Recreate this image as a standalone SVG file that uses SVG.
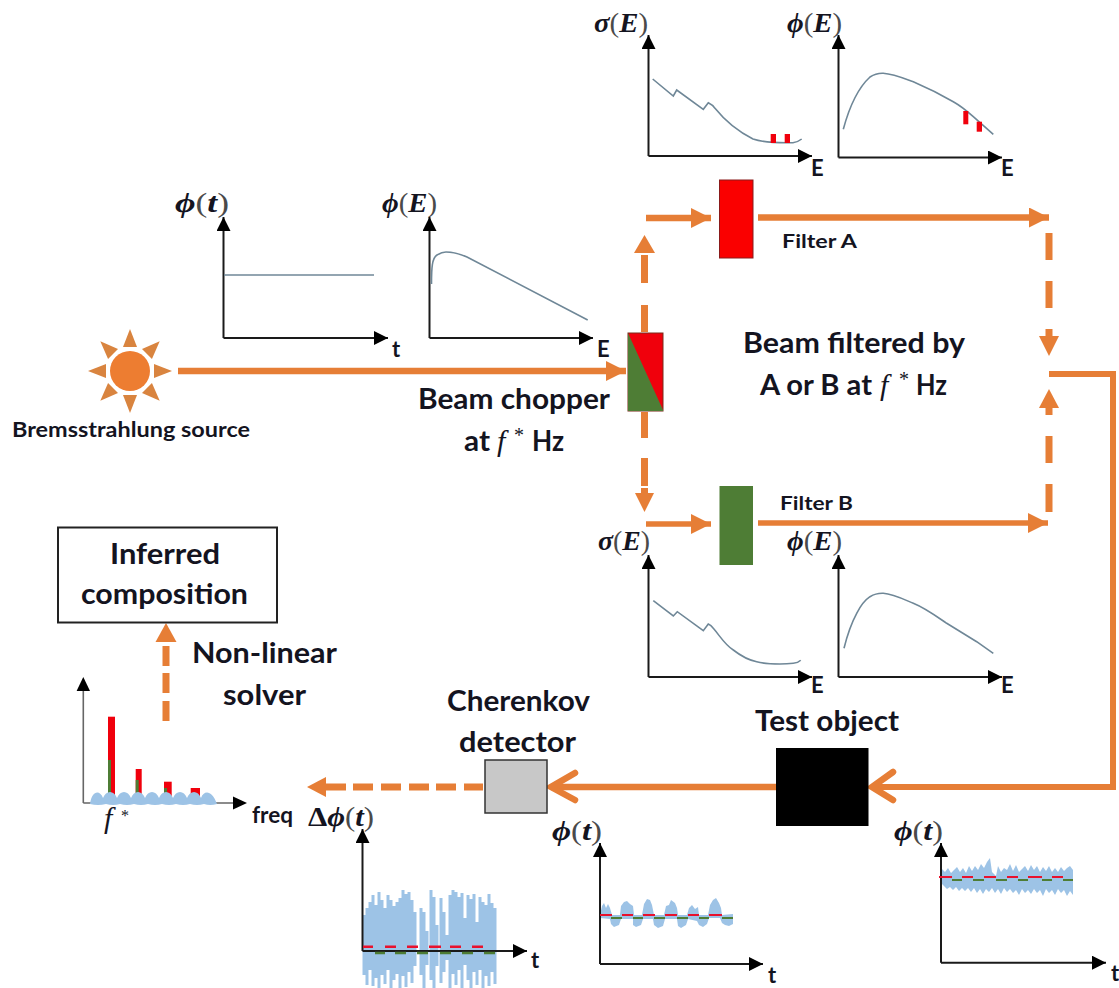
<svg xmlns="http://www.w3.org/2000/svg" width="1119" height="988" viewBox="0 0 1119 988">
<style>
text{font-family:Lato,"Liberation Sans",Arial,sans-serif;font-weight:700;fill:#14141f}
.lg{font-size:28px}
.md{font-size:20px}
.sm{font-size:19px}
.ax{font-size:22px}
.m{font-family:"Liberation Serif","DejaVu Serif",serif;font-size:27px;font-weight:700;font-style:italic}
.m .p{font-weight:400;font-style:normal;fill:#4a4a4a}
.f{font-family:"Liberation Serif","DejaVu Serif",serif;font-style:italic;font-weight:400;font-size:30px}
.st{font-family:"Liberation Serif","DejaVu Serif",serif;font-weight:400;font-size:20px}
.axis{fill:none;stroke:#1a1a1a;stroke-width:2;marker-end:url(#blk)}
.cv{fill:none;stroke:#6f8797;stroke-width:1.6}
.beam{fill:none;stroke:#e67e36;stroke-width:6.5;marker-end:url(#org)}
.thin{stroke-width:5.5}
.dash{fill:none;stroke:#e67e36;stroke-width:7}
.o{fill:#e67e36}
.open{fill:none;stroke:#e67e36;stroke-width:6.5;stroke-linecap:round;stroke-linejoin:miter}
.noise{fill:#9dc3e6;filter:url(#soft)}
.r{fill:#f0000c}
.g{fill:#4e7d35}
.rl{stroke:#e8112d;stroke-width:2.5;fill:none}
.gl{stroke:#4e7d35;stroke-width:2.5;fill:none}
</style>
<defs>
<marker id="blk" markerUnits="userSpaceOnUse" markerWidth="16" markerHeight="16" refX="14" refY="7" orient="auto"><path d="M0 0L14 7L0 14Z" fill="#000"/></marker>
<marker id="org" markerUnits="userSpaceOnUse" markerWidth="22" markerHeight="22" refX="20" refY="10" orient="auto"><path d="M0 0L20 10L0 20Z" fill="#e67e36"/></marker>
<filter id="soft" x="-5%" y="-5%" width="110%" height="110%"><feGaussianBlur stdDeviation="0.6"/></filter>
</defs>
<rect width="1119" height="988" fill="#fff"/>

<g id="connectors">
<path class="beam" d="M178 371H626"/>
<path class="beam" d="M646 218H711"/>
<path class="beam" d="M758 217.500H1049"/>
<path class="beam thin" d="M646 524H711"/>
<path class="beam thin" d="M758 523H1048"/>
<path class="dash" d="M644.500 332V305M644.500 283V255"/>
<path class="o" d="M644.500 235L655 253H634Z"/>
<path class="dash" d="M644.500 412V438M644.500 458V486M644.500 488V495"/>
<path class="o" d="M644.500 512L635 493H654Z"/>
<path class="dash" d="M1049 233V260M1049 281V308M1049 329V338"/>
<path class="o" d="M1049 356L1039 336H1059Z"/>
<path class="dash" d="M1049 512V484M1049 463V436M1049 415V406"/>
<path class="o" d="M1049 389L1039 408H1059Z"/>
<path fill="none" stroke="#e67e36" stroke-width="6" d="M1049 374H1113V787H872"/>
<path class="open" d="M893 772L872 787L893 800"/>
<path fill="none" stroke="#e67e36" stroke-width="6.500" d="M776 787H551"/>
<path class="open" d="M575 773L551 787L575 800"/>
<path class="dash" d="M483 787H464M456 787H436M429 787H409M401 787H381M373 787H353M346 787H324"/>
<path class="o" d="M307 787L326 777V797Z"/>
<path class="dash" d="M166 721V701M166 693V673M166 666V646"/>
<path class="o" d="M166 623L176.500 642H155.500Z"/>
</g>

<g id="source">
<circle cx="130" cy="371" r="20" fill="#ed7d31"/>
<g fill="#d9843f">
<path d="M130 329L123 347H137Z"/>
<path d="M130 329L123 347H137Z" transform="rotate(45 130 371)"/>
<path d="M130 329L123 347H137Z" transform="rotate(90 130 371)"/>
<path d="M130 329L123 347H137Z" transform="rotate(135 130 371)"/>
<path d="M130 329L123 347H137Z" transform="rotate(180 130 371)"/>
<path d="M130 329L123 347H137Z" transform="rotate(225 130 371)"/>
<path d="M130 329L123 347H137Z" transform="rotate(270 130 371)"/>
<path d="M130 329L123 347H137Z" transform="rotate(315 130 371)"/>
</g>
<text class="md" x="12" y="437" textLength="238" lengthAdjust="spacingAndGlyphs">Bremsstrahlung source</text>
</g>

<g id="plot-flux-time">
<text class="m" x="175" y="212" textLength="54" lengthAdjust="spacingAndGlyphs">ϕ<tspan class="p">(</tspan>t<tspan class="p">)</tspan></text>
<path class="axis" d="M223.500 338V217"/>
<path class="axis" d="M223.500 338H388"/>
<path class="cv" d="M224 275H374"/>
<text class="ax" x="392" y="357">t</text>
</g>

<g id="plot-flux-energy">
<text class="m" x="382" y="212" textLength="55" lengthAdjust="spacingAndGlyphs">ϕ<tspan class="p">(</tspan>E<tspan class="p">)</tspan></text>
<path class="axis" d="M429.500 338V217"/>
<path class="axis" d="M429.500 338H593"/>
<path class="cv" d="M431.500 284C431.500 268 432 258 437 255Q442 252 446 252C453 252 460 254 467 257L587.700 320"/>
<text class="ax" x="597" y="357">E</text>
</g>

<g id="chopper">
<rect x="628" y="333" width="35" height="78" fill="#f0000c" stroke="#7a2a1a" stroke-width="1"/>
<path class="g" d="M628 333L663 410V411H628Z"/>
<text class="lg" x="418" y="409" textLength="192" lengthAdjust="spacingAndGlyphs">Beam chopper</text>
<text class="lg" x="464" y="451" textLength="26" lengthAdjust="spacingAndGlyphs">at</text>
<text class="f" x="497" y="451">f</text>
<text class="st" x="514" y="442">*</text>
<text class="lg" x="532" y="451" textLength="32" lengthAdjust="spacingAndGlyphs">Hz</text>
</g>

<g id="plot-sigma-a">
<text class="m" x="594" y="32" textLength="54" lengthAdjust="spacingAndGlyphs">σ<tspan class="p">(</tspan>E<tspan class="p">)</tspan></text>
<path class="axis" d="M648.500 156V35"/>
<path class="axis" d="M648.500 156H812"/>
<path class="cv" d="M652.700 79L673.300 96L676.700 90L703.300 109.300L708.300 102.700Q713 105 715 108.300C722 117 733 129 753 139C765 143 780 143 793 142.700Q798 142 801.700 139"/>
<rect class="r" x="770.700" y="134" width="5.300" height="9"/>
<rect class="r" x="784.700" y="134" width="5.300" height="9"/>
<text class="ax" x="811" y="176">E</text>
</g>

<g id="plot-phi-a">
<text class="m" x="787" y="32" textLength="55" lengthAdjust="spacingAndGlyphs">ϕ<tspan class="p">(</tspan>E<tspan class="p">)</tspan></text>
<path class="axis" d="M838.500 157.500V35"/>
<path class="axis" d="M838.500 157.500H1002"/>
<path class="cv" d="M843.300 129.300C849 108 858 88 870 77Q876 73 883.300 73.300C893 74 903 78 913.300 81.700C928 88 940 94 953.300 101.700C961 106 967 111 973.300 116.700L993.300 134.300"/>
<rect class="r" x="963.300" y="111" width="5" height="13.300"/>
<rect class="r" x="976.700" y="121.700" width="5.300" height="10"/>
<text class="ax" x="1001" y="176">E</text>
</g>

<g id="filter-a">
<rect x="719.500" y="180" width="33.500" height="78" fill="#fa0000" stroke="#8a1a1a" stroke-width="1"/>
<text class="sm" x="782" y="248" textLength="75" lengthAdjust="spacingAndGlyphs">Filter A</text>
</g>

<g id="filter-b">
<rect x="719.500" y="486" width="33.500" height="79" fill="#4e7d35"/>
<text class="sm" x="780" y="510" textLength="73" lengthAdjust="spacingAndGlyphs">Filter B</text>
</g>

<g id="label-filtered">
<text class="lg" x="743" y="353" textLength="222" lengthAdjust="spacingAndGlyphs">Beam filtered by</text>
<text class="lg" x="760" y="395" textLength="112" lengthAdjust="spacingAndGlyphs">A or B at</text>
<text class="f" x="880" y="395">f</text>
<text class="st" x="899" y="386">*</text>
<text class="lg" x="916" y="395" textLength="31" lengthAdjust="spacingAndGlyphs">Hz</text>
</g>

<g id="plot-sigma-b">
<text class="m" x="598" y="550" textLength="52" lengthAdjust="spacingAndGlyphs">σ<tspan class="p">(</tspan>E<tspan class="p">)</tspan></text>
<path class="axis" d="M648.500 677V555"/>
<path class="axis" d="M648.500 677H812"/>
<path class="cv" d="M653.300 600.700L673.300 616L677.300 611.700L703.300 630.700L708.300 624Q711 625 713.300 628.300C720 636 725 645 733.300 650C741 656 748 660 756.700 661.700C765 664 772 664 780 664Q787 664 793.300 663.300Q798 663 800.700 660.300"/>
<text class="ax" x="811" y="693">E</text>
</g>

<g id="plot-phi-b">
<text class="m" x="787" y="550" textLength="55" lengthAdjust="spacingAndGlyphs">ϕ<tspan class="p">(</tspan>E<tspan class="p">)</tspan></text>
<path class="axis" d="M838.500 677V555"/>
<path class="axis" d="M838.500 677H1002"/>
<path class="cv" d="M844 648.300C848 632 852 622 856.700 613.300C861 605 865 600 870 596.700Q876 593 883.300 593.300C893 594 903 599 913.300 603.300C925 608 936 616 946.700 623.300L976.700 641.700L993.300 653.300"/>
<text class="ax" x="1001" y="693">E</text>
</g>

<g id="test-object">
<rect x="776" y="748" width="92.500" height="78" fill="#000"/>
<text class="lg" x="755" y="731" textLength="144" lengthAdjust="spacingAndGlyphs">Test object</text>
</g>

<g id="detector">
<rect x="485" y="760" width="62" height="53" fill="#c8c8c8" stroke="#333" stroke-width="1.500"/>
<text class="lg" x="447" y="711" textLength="143" lengthAdjust="spacingAndGlyphs">Cherenkov</text>
<text class="lg" x="459" y="752" textLength="117" lengthAdjust="spacingAndGlyphs">detector</text>
</g>

<g id="composition">
<rect x="58" y="527.500" width="219" height="95" fill="#fff" stroke="#222" stroke-width="2"/>
<text class="lg" x="110" y="564" textLength="110" lengthAdjust="spacingAndGlyphs">Inferred</text>
<text class="lg" x="81" y="604" textLength="167" lengthAdjust="spacingAndGlyphs">composition</text>
</g>

<g id="label-solver">
<text class="lg" x="192" y="663" textLength="145" lengthAdjust="spacingAndGlyphs">Non-linear</text>
<text class="lg" x="223" y="705" textLength="83" lengthAdjust="spacingAndGlyphs">solver</text>
</g>

<g id="plot-frequency">
<rect class="r" x="108" y="716.700" width="7" height="80"/>
<rect class="g" x="108" y="760" width="3" height="37"/>
<rect class="r" x="135.700" y="769" width="6" height="28"/>
<rect class="g" x="135.700" y="780" width="3" height="17"/>
<rect class="r" x="164" y="781.700" width="7.700" height="15"/>
<rect class="g" x="164" y="788" width="3" height="9"/>
<rect class="r" x="190.700" y="788" width="9.300" height="8"/>
<path stroke="#666" stroke-width="1.600" fill="none" d="M83.300 803V688M83.300 803H234"/>
<path d="M83.300 677L90 691H76.600Z" fill="#000"/>
<path d="M247 803L233 796.500V809.500Z" fill="#000"/>
<path class="noise" d="M90 804C92 790 100 790 103 798C106 790 114 790 117 798C120 790 128 790 131 798C134 790 142 790 145 798C148 790 156 790 159 798C162 790 170 790 173 798C176 790 184 790 187 798C190 790 198 790 201 798C204 790 212 790 217 804Q210 806 204 804Q197 806 190 804Q183 806 176 804Q169 806 162 804Q155 806 148 804Q141 806 134 804Q127 806 120 804Q113 806 106 804Q98 806 90 804Z"/>
<text class="f" x="104" y="828">f</text>
<text class="st" x="121" y="821" style="font-size:16px">*</text>
<text class="ax" x="252" y="823" textLength="41" lengthAdjust="spacingAndGlyphs">freq</text>
</g>

<g id="plot-delta">
<text class="m" x="308" y="826" textLength="66" lengthAdjust="spacingAndGlyphs"><tspan style="font-style:normal">Δ</tspan>ϕ<tspan class="p">(</tspan>t<tspan class="p">)</tspan></text>
<path filter="url(#soft)" stroke="#9dc3e6" stroke-width="3" fill="none" d="M364 915V975M367 908V985M370 902V970M373 895V986M376 905V978M379 892V988M382 900V975M385 908V984M388 895V970M391 900V988M394 906V980M397 902V974M400 898V988M403 890V976M406 894V987M409 892V972M412 900V983M415 912V966M421 908V975M424 912V988M427 931V965M431 890V980M434 897V988M437 925V966M441 898V983M444 912V972M447 935V960M450 895V988M453 890V974M456 892V985M459 897V970M462 893V988M465 918V965M468 895V980M471 899V988M474 894V972M477 922V985M480 897V970M483 902V988M486 905V976M489 894V986M492 903V972M495 908V984"/>
<path class="axis" d="M362.500 951V829"/>
<path class="axis" d="M362.500 951H527"/>
<path class="rl" d="M363 946.700H373M385 946.700H396M407 946.700H418M429 946.700H441M450 946.700H461M472 946.700H483"/>
<path class="gl" stroke-width="3" d="M375 953H385M395 953H406M417 953H428M440 953H451M462 953H473M484 953H495"/>
<text class="ax" x="531" y="968">t</text>
</g>

<g id="plot-mid">
<text class="m" x="552" y="840" textLength="50" lengthAdjust="spacingAndGlyphs">ϕ<tspan class="p">(</tspan>t<tspan class="p">)</tspan></text>
<path class="noise" d="M600 915L602 906 604 903 606 908 608 904 610 908 612 915 620 915 621 906 624 902 627 901 630 904 633 906 634 915 642 915 644 904 647 899 650 900 652 905 654 915 664 915 666 906 669 905 671 900 675 903 677 908 678 915 687 915 689 908 692 905 695 909 698 907 699 915 708 915 710 905 713 900 716 898 719 903 721 908 722 915 733 914 733 924 729 926 725 925 722 923 720 918 709 918 707 924 703 927 699 925 697 921 688 919 686 925 681 928 678 926 677 919 665 919 663 926 658 928 654 925 653 919 643 919 641 925 636 927 633 925 633 919 621 919 619 925 614 927 611 924 610 919 600 918Z"/>
<path class="axis" d="M600 964V843"/>
<path class="axis" d="M600 964H763"/>
<path class="rl" style="stroke-width:2" d="M600 915H612M622 915H633M643 915H655M665 915H677M688 915H699M709 915H722"/>
<path class="gl" style="stroke-width:2" d="M611 918H622M633 918H643M654 918H665M677 918H688M699 918H709M722 918H733"/>
<text class="ax" x="768" y="983">t</text>
</g>

<g id="plot-right">
<text class="m" x="894" y="840" textLength="49" lengthAdjust="spacingAndGlyphs">ϕ<tspan class="p">(</tspan>t<tspan class="p">)</tspan></text>
<path class="noise" d="M942 869L945 872 948 868 951 873 954 870 957 867 960 872 963 868 966 873 969 866 972 871 975 866 978 870 981 864 984 868 987 862 990 858 992 872 996 876 998 866 1001 872 1004 868 1007 870 1010 864 1013 871 1016 865 1019 872 1022 869 1025 866 1028 871 1031 865 1034 870 1037 866 1040 872 1043 867 1046 871 1049 866 1052 872 1055 868 1058 872 1061 867 1064 871 1067 868 1070 866 1073 870 1073 895 1070 891 1067 896 1064 890 1061 893 1058 889 1055 895 1052 890 1049 893 1046 889 1043 896 1040 890 1037 893 1034 889 1031 894 1028 890 1025 893 1022 889 1019 895 1016 890 1013 893 1010 889 1007 892 1004 888 1001 894 998 889 995 893 992 888 989 892 986 889 983 894 980 889 977 893 974 888 971 892 968 888 965 891 962 888 959 891 956 887 953 890 950 887 947 889 944 886 942 884Z"/>
<path class="axis" d="M941 962.700V843"/>
<path class="axis" d="M941 962.700H1106"/>
<path class="rl" style="stroke-width:2" d="M939 877H952M962 877H973M984 877H996M1007 877H1018M1028 877H1042M1052 877H1063"/>
<path class="gl" style="stroke-width:2" d="M952 880H962M973 880H984M996 880H1007M1018 880H1028M1042 880H1052M1063 880H1073"/>
<text class="ax" x="1111" y="981">t</text>
</g>
</svg>
